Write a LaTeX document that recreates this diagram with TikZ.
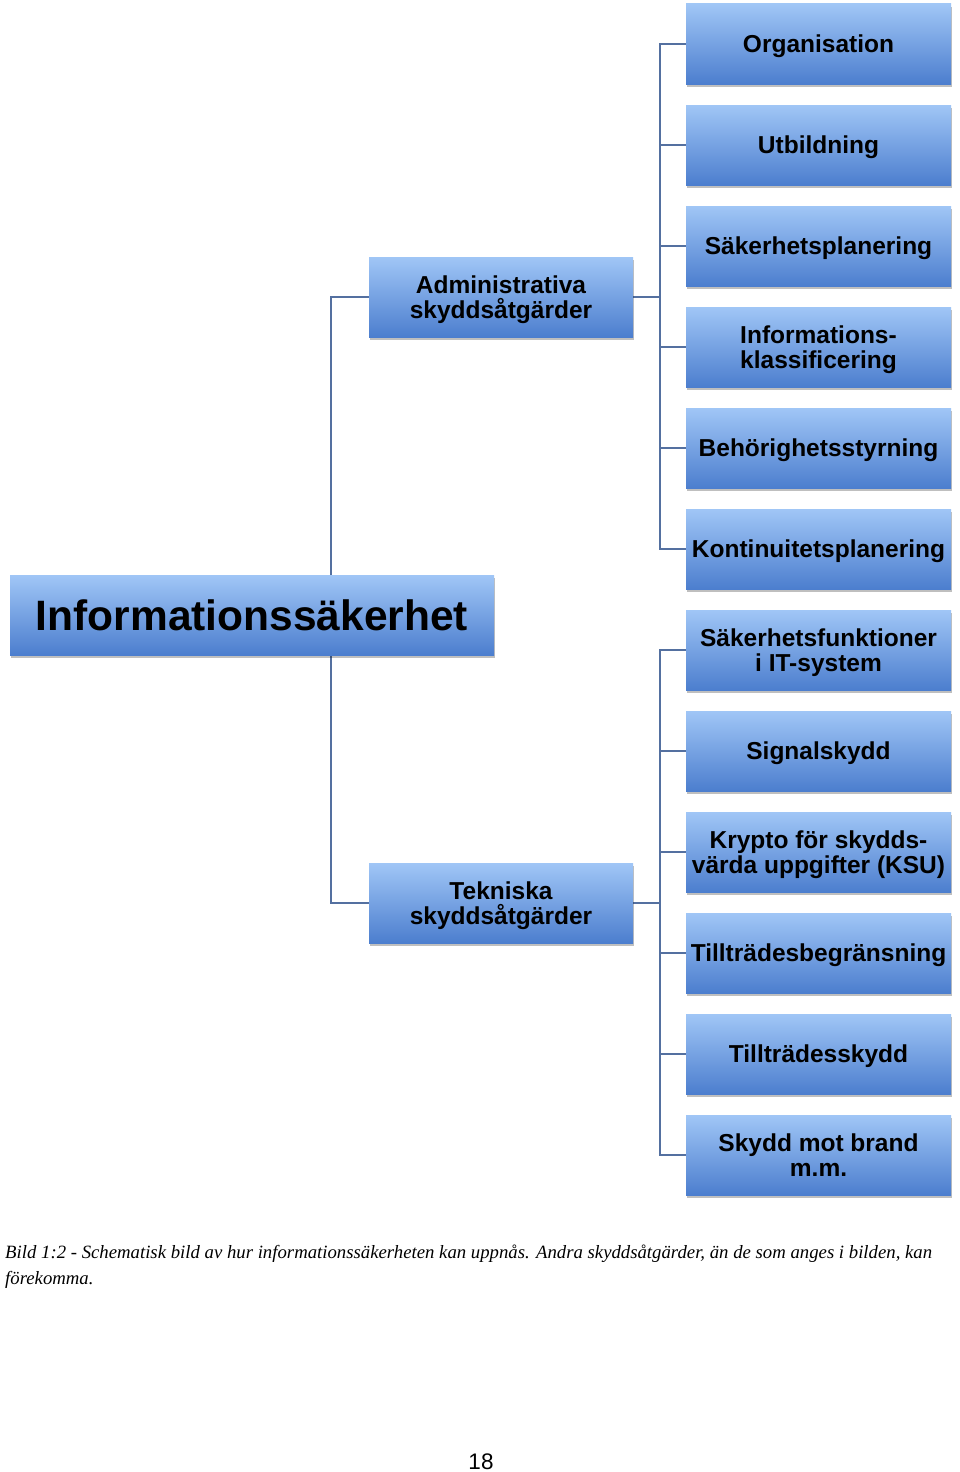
\documentclass[tikz,border=0pt]{standalone}
\usepackage{fontspec}
\newfontfamily\hb{Liberation Sans}
\newfontfamily\capserif{Liberation Serif}
\usetikzlibrary{shadows,backgrounds}
\definecolor{boxtop}{RGB}{160,198,246}
\definecolor{boxbot}{RGB}{76,126,206}
\definecolor{conn}{RGB}{84,112,160}
\tikzset{
  bluebox/.style={rectangle, inner sep=0pt, top color=boxtop, bottom color=boxbot,
    draw=none, align=center, text=black, text depth=0pt,
    drop shadow={shadow xshift=0.5pt, shadow yshift=-3pt, fill=black, opacity=0.25}},
  rbox/.style={bluebox, minimum width=265pt, minimum height=80pt,
    font=\hb\bfseries\fontsize{24.5}{25.5}\selectfont},
  mbox/.style={bluebox, minimum width=264pt, minimum height=80pt,
    font=\hb\bfseries\fontsize{24.5}{25.5}\selectfont},
  tbox/.style={bluebox, minimum width=484pt, minimum height=80pt,
    font=\hb\bfseries\fontsize{42.5}{44}\selectfont},
  connline/.style={draw=conn, line width=1.4pt},
  captext/.style={anchor=base west, inner sep=0pt, font=\capserif\itshape\fontsize{18.75}{26}\selectfont},
}
\begin{document}
\begin{tikzpicture}[x=1pt,y=-1pt]
\useasboundingbox (0,0) rectangle (960,1472);

\node[tbox] (main) at (252,615) {Informationssäkerhet};
\node[mbox] (admin) at (501,297) {Administrativa\\skyddsåtgärder};
\node[mbox] (tek) at (501,903) {Tekniska\\skyddsåtgärder};

\foreach \t [count=\i from 0] in {Organisation, Utbildning, Säkerhetsplanering,
  {Informations-\\klassificering}, Behörighetsstyrning, Kontinuitetsplanering,
  {Säkerhetsfunktioner\\i IT-system}, Signalskydd,
  {Krypto för skydds-\\värda uppgifter (KSU)}, Tillträdesbegränsning,
  Tillträdesskydd, {Skydd mot brand\\m.m.}}
  \node[rbox] (r\i) at (818.5,{44+101*\i}) {\t};

\coordinate (ja) at (660,297);
\coordinate (jt) at (660,903);
\coordinate (jm) at (331,297);

\begin{pgfonlayer}{background}
  \fill[white] (0,0) rectangle (960,1472);
  \draw[connline] (admin.west) -- (jm) |- (tek.west);
  \draw[connline] (admin.east) -- (ja);
  \draw[connline] (tek.east) -- (jt);
  \foreach \i in {0,...,5} \draw[connline] (ja) |- (r\i.west);
  \foreach \i in {6,...,11} \draw[connline] (jt) |- (r\i.west);
\end{pgfonlayer}

\node[captext] (cap1) at (5,1258) {Bild 1:2 - Schematisk bild av hur informationssäkerheten kan uppnås. Andra skyddsåtgärder, än de som anges i bilden, kan};
\node[captext] (cap2) at (5,1284) {förekomma.};

\node[anchor=base, inner sep=0pt, font=\hb\fontsize{22.5}{24}\selectfont] (pnum) at (481,1469) {18};
\end{tikzpicture}
\end{document}
